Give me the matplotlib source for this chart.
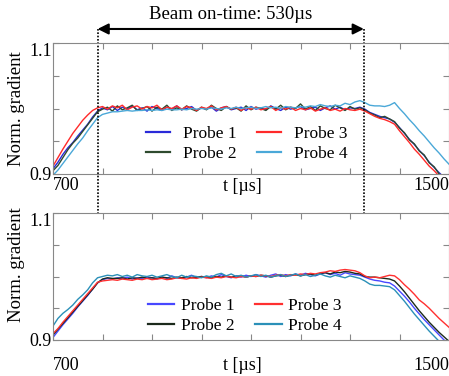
import numpy as np
import matplotlib
matplotlib.use("Agg")
import matplotlib.pyplot as plt

plt.rcParams['font.family'] = ['Liberation Serif', 'DejaVu Serif']

# time axis, 10 us steps
t = np.arange(700, 1501, 10)

# values, in units of 1/1000
top_p1 = [908, 918, 930, 940, 948, 958, 967, 976, 987, 996,
          1001, 998, 1003, 997, 1002, 999, 1004, 998, 1001, 996,
          1003, 1000, 997, 1002, 999, 1004, 998, 1000, 1003, 997,
          1001, 999, 1002, 996, 1001, 1003, 998, 1000, 1002, 997,
          1003, 999, 1001, 998, 1004, 1000, 997, 1002, 999, 1001,
          1003, 998, 1000, 1002, 997, 1001, 1004, 999, 1002, 998,
          1001, 1000, 1002,
          999, 994, 991, 988, 986, 984, 979, 971, 962, 953,
          945, 936, 928, 918, 910, 902, 895, 888]
top_p2 = [905, 913, 925, 937, 947, 955, 965, 975, 985, 995,
          999, 1002, 996, 1004, 998, 1001, 1005, 997, 1000, 1003,
          996, 1002, 999, 1005, 997, 1001, 998, 1004, 999, 996,
          1002, 998, 1005, 1000, 997, 1003, 999, 1001, 996, 1004,
          998, 1002, 1000, 997, 1003, 999, 1005, 998, 1002, 1000,
          1007, 999, 1003, 997, 1004, 1000, 998, 1005, 1001, 997,
          1003, 999, 1001,
          998, 993, 990, 986, 988, 984, 980, 970, 963, 952,
          946, 935, 929, 917, 911, 900, 896, 886]
top_p3 = [912, 925, 938, 950, 962, 972, 982, 990, 997, 1001,
          1003, 999, 1004, 1001, 1005, 998, 1002, 1004, 999, 1003,
          1001, 1005, 998, 1002, 1000, 1004, 999, 1003, 1001, 997,
          1002, 1000, 1004, 998, 1001, 1003, 999, 1002, 997, 1001,
          999, 1002, 998, 1000, 1003, 997, 1001, 999, 1002, 997,
          1000, 998, 1001, 996, 999, 1001, 997, 999, 996, 1000,
          998, 997, 999,
          996, 992, 988, 985, 983, 980, 976, 966, 957, 948,
          938, 930, 921, 912, 905, 897, 890, 884]
top_p4 = [898, 906, 916, 926, 936, 946, 955, 966, 976, 986,
          991, 993, 995, 995, 996, 997, 996, 997, 997, 998,
          997, 998, 997, 999, 998, 998, 999, 998, 1000, 999,
          1000, 999, 1001, 1000, 999, 1001, 1000, 1002, 1000, 1001,
          1002, 1000, 1001, 1003, 1001, 1002, 1000, 1003, 1002, 1001,
          1003, 1002, 1004, 1003, 1006, 1004, 1003, 1005, 1004, 1008,
          1006, 1010, 1012,
          1009, 1005, 1004, 1004, 1003, 1005, 1009, 1000, 992, 983,
          975, 966, 958, 949, 940, 932, 923, 915]

bot_p1 = [904, 914, 924, 933, 942, 952, 961, 970, 980, 990,
          995, 997, 996, 998, 997, 999, 996, 998, 997, 999,
          998, 996, 999, 997, 1001, 998, 997, 999, 1002, 998,
          1000, 998, 1001, 999, 1003, 1000, 998, 1001, 999, 1002,
          1000, 1003, 1001, 999, 1002, 1004, 1000, 1003, 1001, 1004,
          1002, 1005, 1003, 1001, 1004, 1006, 1003, 1005, 1002, 1006,
          1004, 1003, 1002,
          999, 996, 994, 993, 991, 990, 985, 977, 969, 960,
          950, 941, 932, 924, 916, 908, 900, 893]
bot_p2 = [908, 917, 926, 935, 944, 953, 962, 971, 980, 990,
          996, 998, 997, 997, 998, 996, 998, 997, 999, 997,
          998, 997, 999, 998, 997, 999, 998, 1000, 998, 999,
          1000, 999, 998, 1000, 999, 1001, 999, 1000, 1001, 999,
          1001, 1000, 1002, 1001, 999, 1001, 1002, 1000, 1002, 1003,
          1001, 1003, 1004, 1002, 1005, 1006, 1004, 1007, 1006, 1008,
          1007, 1005, 1004,
          1000, 999, 999, 998, 997, 996, 993, 985, 976, 966,
          956, 946, 937, 928, 920, 912, 905, 898]
bot_p3 = [910, 918, 928, 937, 946, 955, 964, 973, 982, 991,
          993, 994, 995, 994, 996, 995, 994, 996, 995, 997,
          995, 996, 997, 995, 996, 998, 997, 996, 998, 997,
          999, 998, 997, 999, 998, 1000, 999, 998, 1000, 999,
          1001, 1000, 1002, 1001, 1000, 1002, 1003, 1001, 1003, 1002,
          1004, 1003, 1005, 1004, 1006, 1007, 1009, 1008, 1010, 1011,
          1010, 1009, 1006,
          1001, 998, 999, 998, 1000, 1002, 1001, 995, 987, 980,
          972, 963, 957, 950, 942, 934, 927, 920]
bot_p4 = [922, 934, 942, 948, 955, 964, 971, 979, 990, 998,
          1000, 1002, 1001, 1003, 1000, 1002, 999, 1003, 1001, 1000,
          1002, 999, 1001, 1003, 1000, 998, 1002, 999, 1001, 1000,
          998, 1001, 999, 1003, 1005, 1001, 1004, 1000, 1002, 999,
          1001, 1003, 1000, 1002, 999, 1001, 1003, 1000, 1002, 1004,
          1001, 1003, 1000, 1002, 1004, 1001, 999, 1002, 1000, 998,
          1001, 999, 997,
          993, 988, 986, 986, 985, 984, 979, 970, 961, 951,
          941, 932, 923, 914, 906, 898, 891, 884]

labels = ["Probe 1", "Probe 2", "Probe 3", "Probe 4"]
top_colors = ["#2a2ad8", "#2e4a2e", "#ff2a2a", "#4aa8d8"]
bot_colors = ["#4848ff", "#1c2a1c", "#ff3030", "#2b90b8"]

beam_on = [790, 1328]
beam_text = "Beam on-time: 530µs"

W, H = 449, 376
fig = plt.figure(figsize=(W / 100, H / 100), dpi=100)
ax1 = fig.add_axes([53 / W, 1 - 174 / H, 396 / W, 131 / H])
ax2 = fig.add_axes([53 / W, 1 - 340 / H, 396 / W, 127 / H])

for ax, series, colors in [(ax1, [top_p1, top_p2, top_p3, top_p4], top_colors),
                           (ax2, [bot_p1, bot_p2, bot_p3, bot_p4], bot_colors)]:
    for vals, c, lab in zip(series, colors, labels):
        ax.plot(t, np.array(vals) / 1000, color=c, lw=1.0, label=lab)
    ax.set_xlim(700, 1500)
    ax.set_ylim(0.9, 1.1)
    ax.set_xticks(np.arange(700, 1501, 100))
    ax.set_xticklabels(["700", "", "", "", "", "", "", "", "1500"])
    ax.set_yticks([0.9, 0.95, 1.0, 1.05, 1.1])
    ax.set_yticklabels(["0.9", "", "", "", "1.1"])
    ax.tick_params(direction="in", length=4, color="#888888", labelsize=13,
                   top=True, right=True)
    for s in ax.spines.values():
        s.set_color("#888888")
    xl = ax.get_xticklabels()
    xl[0].set_ha("left")
    xl[-1].set_ha("right")
    yl = ax.get_yticklabels()
    yl[-1].set_va("top")
    ax.set_ylabel("Norm. gradient", fontsize=13.5)

ax1.tick_params(axis="x", pad=2)
ax2.tick_params(axis="x", pad=12)
ax1.tick_params(axis="y", pad=1)
ax2.tick_params(axis="y", pad=1)
ax1.yaxis.set_label_coords(-0.07, 0.5)
ax2.yaxis.set_label_coords(-0.07, 0.59)

ax1.text(0.477, -0.03, "t [µs]", transform=ax1.transAxes, ha="center", va="top", fontsize=13)
ax2.text(0.477, -0.134, "t [µs]", transform=ax2.transAxes, ha="center", va="top", fontsize=13)

ax1.legend(ncol=2, frameon=False, loc="center", bbox_to_anchor=(0.489, 0.229),
           fontsize=12.5, handlelength=1.4, handletextpad=0.7, columnspacing=1.2,
           labelspacing=0.25, borderpad=0)
ax2.legend(ncol=2, frameon=False, loc="center", bbox_to_anchor=(0.485, 0.189),
           fontsize=12.5, handlelength=1.5, handletextpad=0.4, columnspacing=1.2,
           labelspacing=0.25, borderpad=0)
for leg in [ax1.get_legend(), ax2.get_legend()]:
    for h in leg.get_lines():
        h.set_linewidth(1.6)

# beam on-time markers spanning both panels
tr = ax1.get_xaxis_transform()
for x in beam_on:
    ax1.plot([x, x], [1.107, -1.168], transform=tr, color="black", lw=1.2,
             linestyle=(0, (1, 1)), clip_on=False)
ax1.annotate("", xy=(beam_on[1], 1.107), xytext=(beam_on[0], 1.107), xycoords=tr,
             textcoords=tr, annotation_clip=False,
             arrowprops=dict(arrowstyle="<|-|>", color="black", lw=1.5,
                             mutation_scale=16, shrinkA=0, shrinkB=0))
ax1.text(np.mean(beam_on), 1.214, beam_text, transform=tr, ha="center", va="center",
         fontsize=13.5)

fig.savefig("out.png", dpi=100)
